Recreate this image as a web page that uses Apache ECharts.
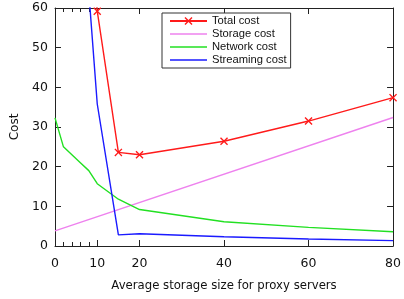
<!DOCTYPE html>
<html>
<head>
<meta charset="utf-8">
<script src="https://cdn.jsdelivr.net/npm/echarts@6/dist/echarts.min.js"></script>
<style>
html,body{margin:0;padding:0;background:#fff;}
#c{width:404px;height:299px;}
</style>
</head>
<body>
<div id="c"></div>
<script>
var totalX = [8, 10, 15, 20, 40, 60, 80];
var totalY = [88, 59.2, 23.6, 23.0, 26.4, 31.5, 37.4];
var storageX = [0, 80];
var storageY = [3.8, 32.4];
var networkX = [0, 2, 4, 6, 8, 10, 15, 20, 40, 60, 80];
var networkY = [32.3, 25.0, 23.0, 21.0, 19.0, 15.7, 11.8, 9.2, 6.1, 4.7, 3.6];
var streamingX = [8, 10, 15, 20, 40, 60, 80];
var streamingY = [64, 35.8, 2.8, 3.1, 2.35, 1.75, 1.35];
var xLabelValues = [0, 10, 20, 40, 60, 80];
var xMinorTicks = [2, 4, 6, 8];

function pairs(xs, ys){ return xs.map(function(x,i){ return [x, ys[i]]; }); }

var FONT = 'DejaVu Sans';
var AX = '#222';
var C_TOTAL = '#ff1a1a', C_STOR = '#ee82ee', C_NET = '#22e022', C_STREAM = '#1a1aff';
var chart = echarts.init(document.getElementById('c'), null, {renderer:'canvas'});
var xMajor = {
  type:'value', min:0, max:80, position:'bottom',
  axisLine:{show:true, onZero:false, lineStyle:{color:AX, width:1}},
  axisTick:{show:true, inside:true, length:6, customValues:xLabelValues, lineStyle:{color:AX}},
  axisLabel:{show:true, customValues:xLabelValues, color:'#111', fontFamily:FONT, fontSize:12.5, margin:11},
  splitLine:{show:false},
  name:'Average storage size for proxy servers', nameLocation:'middle', nameGap:34,
  nameTextStyle:{color:'#111', fontFamily:FONT, fontSize:11.7}
};
var xMinor = {
  type:'value', min:0, max:80, position:'bottom',
  axisLine:{show:false, onZero:false},
  axisTick:{show:true, inside:true, length:4, customValues:xMinorTicks, lineStyle:{color:AX}},
  axisLabel:{show:false}, splitLine:{show:false}
};
var xTopMajor = {
  type:'value', min:0, max:80, position:'top',
  axisLine:{show:true, onZero:false, lineStyle:{color:AX, width:1}},
  axisTick:{show:true, inside:true, length:6, customValues:xLabelValues, lineStyle:{color:AX}},
  axisLabel:{show:false}, splitLine:{show:false}
};
var xTopMinor = {
  type:'value', min:0, max:80, position:'top',
  axisLine:{show:false, onZero:false},
  axisTick:{show:true, inside:true, length:4, customValues:xMinorTicks, lineStyle:{color:AX}},
  axisLabel:{show:false}, splitLine:{show:false}
};
var yLeft = {
  type:'value', min:0, max:60, interval:10, position:'left',
  axisLine:{show:true, onZero:false, lineStyle:{color:AX, width:1}},
  axisTick:{show:true, inside:true, length:6, lineStyle:{color:AX}},
  axisLabel:{show:true, color:'#111', fontFamily:FONT, fontSize:12.5, margin:7},
  splitLine:{show:false},
  name:'Cost', nameLocation:'middle', nameGap:34,
  nameTextStyle:{color:'#111', fontFamily:FONT, fontSize:12}
};
var yRight = {
  type:'value', min:0, max:60, interval:10, position:'right',
  axisLine:{show:true, onZero:false, lineStyle:{color:AX, width:1}},
  axisTick:{show:true, inside:true, length:6, lineStyle:{color:AX}},
  axisLabel:{show:false}, splitLine:{show:false}
};
var X_PATH = 'path://M0,1.2L1.2,0L5,3.8L8.8,0L10,1.2L6.2,5L10,8.8L8.8,10L5,6.2L1.2,10L0,8.8L3.8,5Z';

chart.setOption({
  animation:false,
  backgroundColor:'#fff',
  grid:{left:55, right:9, top:8, bottom:53, containLabel:false},
  xAxis:[xMajor, xMinor, xTopMajor, xTopMinor],
  yAxis:[yLeft, yRight],
  legend:{
    orient:'vertical', left:162, top:13,
    backgroundColor:'#fff', borderColor:'#333', borderWidth:1,
    padding:[2, 4, 2, 7], itemWidth:37, itemHeight:10, itemGap:1,
    textStyle:{fontFamily:'Liberation Sans', fontSize:11.2, lineHeight:12, color:'#111'},
    data:[
      {name:'Total cost'},
      {name:'Storage cost', icon:'line', itemStyle:{borderColor:C_STOR, borderWidth:1.4, color:C_STOR}},
      {name:'Network cost', icon:'line', itemStyle:{borderColor:C_NET, borderWidth:1.4, color:C_NET}},
      {name:'Streaming cost', icon:'line', itemStyle:{borderColor:C_STREAM, borderWidth:1.4, color:C_STREAM}}
    ]
  },
  series:[
    {name:'Total cost', type:'line', xAxisIndex:0, yAxisIndex:0, clip:true,
     data:pairs(totalX,totalY), symbol:X_PATH, symbolSize:8, showSymbol:true,
     lineStyle:{color:C_TOTAL, width:1.4}, itemStyle:{color:C_TOTAL}, z:5},
    {name:'Storage cost', type:'line', xAxisIndex:0, yAxisIndex:0, clip:true,
     data:pairs(storageX,storageY), symbol:'none',
     lineStyle:{color:C_STOR, width:1.4}, itemStyle:{color:C_STOR}},
    {name:'Network cost', type:'line', xAxisIndex:0, yAxisIndex:0, clip:true,
     data:pairs(networkX,networkY), symbol:'none',
     lineStyle:{color:C_NET, width:1.4}, itemStyle:{color:C_NET}},
    {name:'Streaming cost', type:'line', xAxisIndex:0, yAxisIndex:0, clip:true,
     data:pairs(streamingX,streamingY), symbol:'none',
     lineStyle:{color:C_STREAM, width:1.4}, itemStyle:{color:C_STREAM}}
  ]
});
</script>
</body>
</html>
